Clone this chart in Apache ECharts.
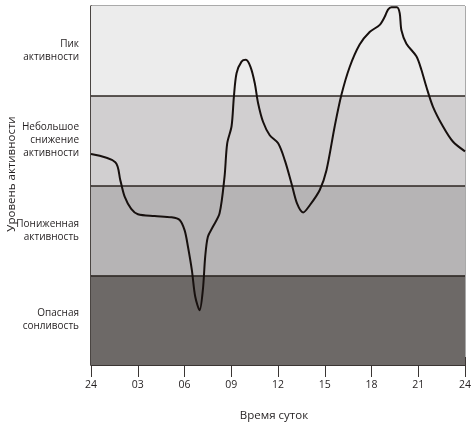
<!DOCTYPE html>
<html>
<head>
<meta charset="utf-8">
<script src="https://cdn.jsdelivr.net/npm/echarts@6/dist/echarts.min.js"></script>
<style>
html, body { margin: 0; padding: 0; background: #fff; }
#main { width: 476px; height: 426px; }
</style>
</head>
<body>
<div id="main"></div>
<script>
// кривая активности: часы и уровень (0..4, по полосам)
var hours = [0, 1.56, 1.88, 2.16, 2.58, 3.01, 4.08, 5.15, 5.69, 6.01, 6.22, 6.47, 6.69, 6.97,
    7.18, 7.33, 7.50, 7.82, 8.25, 8.57, 8.74, 9.02, 9.17, 9.34, 9.66, 9.94, 10.24, 10.51,
    10.72, 11.04, 11.47, 12.01, 12.44, 12.87, 13.22, 13.61, 14.04, 14.68, 15.11, 15.64,
    16.07, 16.60, 17.24, 17.88, 18.53, 18.85, 19.06, 19.28, 19.63, 19.81, 19.92, 20.24,
    20.88, 21.20, 21.52, 21.94, 22.58, 23.22, 24];
var levels = [2.35, 2.26, 2.06, 1.875, 1.74, 1.68, 1.66, 1.646, 1.616, 1.50, 1.32, 1.06, 0.76, 0.61,
    0.84, 1.21, 1.43, 1.54, 1.69, 2.10, 2.47, 2.66, 2.99, 3.25, 3.38, 3.40, 3.32, 3.14,
    2.92, 2.71, 2.56, 2.47, 2.28, 2.02, 1.80, 1.70, 1.78, 1.95, 2.17, 2.66,
    3.01, 3.32, 3.57, 3.71, 3.79, 3.88, 3.96, 3.985, 3.985, 3.92, 3.73, 3.58,
    3.44, 3.29, 3.10, 2.88, 2.66, 2.49, 2.38];

var tickLabels = ['24', '03', '06', '09', '12', '15', '18', '21', '24'];
var bandNames = ['Опасная\nсонливость', 'Пониженная\nактивность', 'Небольшое\nснижение\nактивности', 'Пик\nактивности'];

var myChart = echarts.init(document.getElementById('main'));

var curve = [];
for (var i = 0; i < hours.length; i++) {
    curve.push([hours[i], levels[i]]);
}

// полосы фона снизу вверх
var bandFill = ['#6d6967', '#b6b4b5', '#d1cfd0', '#ececec'];
var areas = [];
var borders = [];
for (var b = 0; b < bandNames.length; b++) {
    areas.push([{ yAxis: b, itemStyle: { color: bandFill[b] } }, { yAxis: b + 1 }]);
    if (b > 0) borders.push({ yAxis: b });
}

var font = '"Open Sans", "Noto Sans", sans-serif';

var option = {
    animation: false,
    textStyle: { fontFamily: font },
    grid: {
        left: 91, right: 11, top: 6, bottom: 61,
        containLabel: false,
        outerBoundsMode: 'none',
        show: true,
        borderColor: '#555',
        borderWidth: 1,
        backgroundColor: 'transparent'
    },
    xAxis: [{
        type: 'value',
        min: 0, max: 24, interval: 3,
        position: 'bottom',
        name: 'Время суток',
        nameLocation: 'middle',
        nameGap: 45,
        nameMoveOverlap: false,
        nameTextStyle: { color: '#231f20', fontSize: 11.5, padding: [0, 8, 0, 0] },
        axisLine: { show: true, lineStyle: { color: '#3a3533', width: 1 } },
        axisTick: { show: true, inside: false, length: 12, lineStyle: { color: '#3a3533' } },
        axisLabel: {
            color: '#231f20', fontSize: 10.5, margin: 15,
            formatter: function (v) { return tickLabels[Math.round(v / 3)]; }
        },
        splitLine: { show: false }
    }, {
        type: 'value',
        min: 0, max: 24, interval: 3,
        position: 'bottom',
        axisLine: { show: false },
        axisTick: { show: true, inside: true, length: 8, lineStyle: { color: '#3a3533' } },
        axisLabel: { show: false },
        splitLine: { show: false }
    }],
    yAxis: {
        type: 'value',
        min: 0, max: 4, interval: 0.5,
        name: 'Уровень активности',
        nameLocation: 'middle',
        nameGap: 73,
        nameRotate: 90,
        nameMoveOverlap: false,
        nameTextStyle: { color: '#231f20', fontSize: 11.5, padding: [0, 0, 0, 23] },
        axisLine: { show: true, lineStyle: { color: '#2b2420', width: 1.5 } },
        axisTick: { show: false },
        axisLabel: {
            color: '#231f20', fontSize: 10, lineHeight: 13, margin: 12, align: 'right',
            formatter: function (v) {
                if (Math.abs(v % 1 - 0.5) < 0.01) return bandNames[Math.floor(v)];
                return '';
            }
        },
        splitLine: { show: false }
    },
    series: [{
        // фон: полосы и границы между ними
        type: 'line',
        data: [],
        z: 1,
        silent: true,
        markArea: { silent: true, data: areas },
        markLine: {
            silent: true,
            symbol: 'none',
            label: { show: false },
            lineStyle: { color: '#2b2420', width: 1.5, type: 'solid' },
            data: borders
        }
    }, {
        type: 'line',
        data: curve,
        z: 5,
        smooth: 0.3,
        showSymbol: false,
        lineStyle: { color: '#17100e', width: 2 }
    }]
};

myChart.setOption(option, true);
</script>
</body>
</html>
